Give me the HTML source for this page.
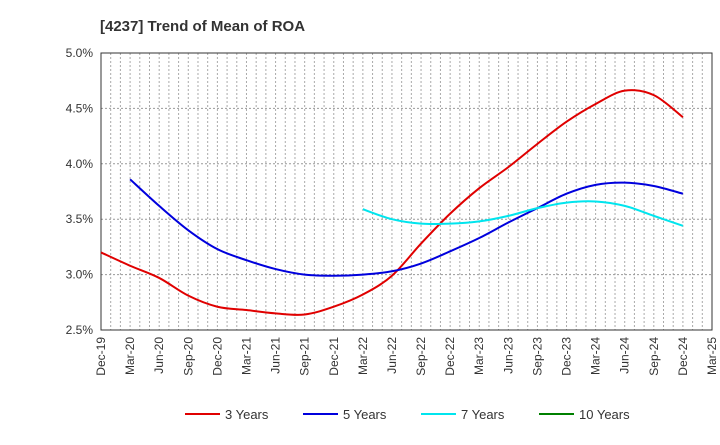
<!DOCTYPE html>
<html><head><meta charset="utf-8"><style>
body{margin:0;background:#fff;font-family:"Liberation Sans",sans-serif}
svg text{font-family:"Liberation Sans",sans-serif}
</style></head><body>
<svg id="c" width="720" height="440">
<text x="100" y="31" font-size="15" font-weight="bold" fill="#333">[4237]  Trend of Mean of ROA</text>
</svg>
<script>
const categories=["Dec-19","Mar-20","Jun-20","Sep-20","Dec-20","Mar-21","Jun-21","Sep-21","Dec-21","Mar-22","Jun-22","Sep-22","Dec-22","Mar-23","Jun-23","Sep-23","Dec-23","Mar-24","Jun-24","Sep-24","Dec-24","Mar-25"];
const yTicks=[2.5,3.0,3.5,4.0,4.5,5.0];
const series3=[3.20,3.08,2.97,2.81,2.71,2.68,2.65,2.64,2.71,2.82,2.99,3.28,3.55,3.78,3.97,4.18,4.38,4.54,4.66,4.62,4.42];
const series5=[null,3.86,3.62,3.40,3.23,3.13,3.05,3.00,2.99,3.00,3.03,3.10,3.21,3.33,3.47,3.60,3.73,3.81,3.83,3.80,3.73];
const series7=[null,null,null,null,null,null,null,null,null,3.59,3.50,3.46,3.46,3.48,3.53,3.60,3.65,3.66,3.62,3.53,3.44];
const series10=[];
const L=101,R=712,T=53,B=330,yMin=2.5,yMax=5.0;
const qw=(R-L)/(categories.length-1);
const X=i=>L+i*qw, Y=v=>B-(v-yMin)/(yMax-yMin)*(B-T);
const svg=document.getElementById('c'),NS='http://www.w3.org/2000/svg';
function mk(t,a){const e=document.createElementNS(NS,t);for(const k in a)e.setAttribute(k,a[k]);svg.appendChild(e);return e;}
// vertical monthly grid
for(let m=1;m<(categories.length-1)*3;m++){const x=L+m*qw/3;
const g=mk('line',{x1:x,x2:x,y1:T,y2:B,stroke:'#aaa','stroke-dasharray':'2,2','stroke-width':1});

}
yTicks.forEach(v=>{const y=Y(v);
const g=mk('line',{x1:L,x2:R,y1:y,y2:y,stroke:'#999','stroke-dasharray':'2,2','stroke-width':1});


const t=mk('text',{x:L-8,y:y+4,'text-anchor':'end','font-size':12,fill:'#333'});t.textContent=v.toFixed(1)+'%';

});
const ax=mk('rect',{x:L,y:T,width:R-L,height:B-T,fill:'none',stroke:'#333','stroke-width':1});


categories.forEach((c,i)=>{const x=X(i);
const t=mk('text',{x:0,y:0,'text-anchor':'end','font-size':12,fill:'#333',transform:`translate(${x+4},${B+7}) rotate(-90)`});t.textContent=c;

});
function path(data){const pts=[];data.forEach((v,i)=>{if(v!=null)pts.push([X(i),Y(v)]);});
if(pts.length<2)return '';let d=`M${pts[0][0]},${pts[0][1]}`;
for(let i=0;i<pts.length-1;i++){const p0=pts[i-1]||pts[i],p1=pts[i],p2=pts[i+1],p3=pts[i+2]||p2;
d+=` C${p1[0]+(p2[0]-p0[0])/6},${p1[1]+(p2[1]-p0[1])/6} ${p2[0]-(p3[0]-p1[0])/6},${p2[1]-(p3[1]-p1[1])/6} ${p2[0]},${p2[1]}`;}return d;}
[[series3,'#e00000','series-3-years'],[series5,'#0000dd','series-5-years'],[series7,'#00e5ee','series-7-years'],[series10,'#008000','series-10-years']].forEach(s=>{
const d=path(s[0]);if(!d)return;const p=mk('path',{d:d,fill:'none',stroke:s[1],'stroke-width':2});

});
const leg=[['3 Years','#e00000',185],['5 Years','#0000dd',303],['7 Years','#00e5ee',421],['10 Years','#008000',539]];
leg.forEach(l=>{mk('line',{x1:l[2],x2:l[2]+35,y1:414,y2:414,stroke:l[1],'stroke-width':2});
const t=mk('text',{x:l[2]+40,y:419,'font-size':13,fill:'#333'});t.textContent=l[0];

});
</script>
</body></html>
